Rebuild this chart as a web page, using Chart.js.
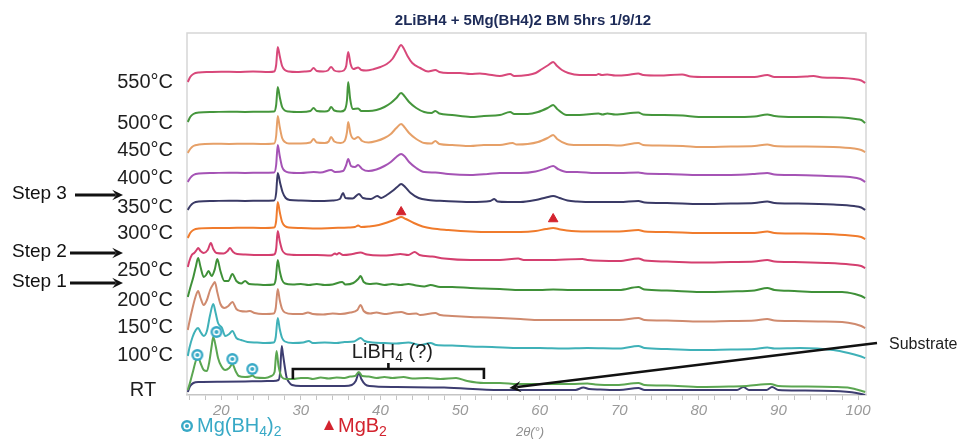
<!DOCTYPE html>
<html>
<head>
<meta charset="utf-8">
<script src="https://cdn.jsdelivr.net/npm/chart.js@4.4.1/dist/chart.umd.min.js"></script>
<style>
  html, body { margin: 0; padding: 0; background: #fff; }
  canvas { display: block; }
</style>
</head>
<body>
<canvas id="xrd" width="966" height="439"></canvas>
<script>
// In-situ XRD scans, 2theta vs intensity (a.u., relative to each scan's baseline)
const temps = ['550°C', '500°C', '450°C', '400°C', '350°C', '300°C', '250°C', '200°C', '150°C', '100°C', 'RT', 'RT'];

// vertical offset of each scan in the stack
const offsets = [323, 283, 251, 222, 194, 167, 140, 110, 81, 52, 17, 13];

const scan550 = [[15.8,-10],[16.1,-5],[16.5,-2],[17.2,-0.5],[18.5,0],[20,0.3],[22,0],[24,0.5],[26,0],[26.65,0.5],[26.9,7],[27.1,25],[27.35,16],[27.65,6],[28,2],[28.5,0.5],[29.5,0],[30.5,0.5],[31.2,1],[31.6,4],[32,1],[32.8,0.5],[33.4,1.5],[33.8,5],[34.2,1.5],[34.8,0.5],[35.4,1.5],[35.7,6],[35.95,20],[36.25,8],[36.6,3],[37.2,4.5],[37.6,2],[38.2,1.5],[39.2,3],[40,5],[40.8,8],[41.5,13],[42.1,21],[42.6,27],[42.9,24],[43.4,16],[44,9],[45,4],[46,0.5],[46.9,2],[47.4,0],[48.5,-1],[50,-1],[51.3,-2],[52.5,-1.5],[53.5,-2.5],[55,-4],[56.3,-2],[56.8,-4],[58.5,-3],[59.5,-1],[60.3,3],[61.1,7],[61.7,10],[62.2,6],[62.8,2],[63.6,-1],[65,-3],[67.1,-3],[67.4,-2],[67.8,-3],[68.5,-2.5],[69.5,-3.5],[71,-3],[72.4,-1.5],[73,-3],[75,-3.5],[77.9,-2.5],[79,-4.5],[81,-5],[84,-5],[87,-5],[88.6,-3],[89.5,-5],[91,-5],[93.5,-4.5],[94.4,-4],[95.5,-5.5],[98,-6],[99.5,-7],[100.4,-8.5],[100.9,-11]];

const scan500 = [[15.8,-10],[16.1,-5],[16.5,-2],[17.2,-0.5],[19,0],[21,0.3],[23,0],[25,0.3],[26.65,0.5],[26.9,7],[27.1,25],[27.35,15],[27.65,5],[28,1.5],[28.5,0.5],[30,0],[31.2,1],[31.6,4],[32,1],[33,0.5],[33.5,1.5],[33.8,5],[34.2,1.5],[35,0.5],[35.5,2],[35.8,12],[35.95,30],[36.2,13],[36.5,3],[37.2,3.5],[37.6,1],[38.5,1],[39.5,2],[40.5,5],[41.3,9],[42,14],[42.6,19],[43,16],[43.6,10],[44.5,4],[45.5,0],[46.4,-1],[46.9,1],[47.4,-1.5],[49,-3],[51.3,-5],[53,-4],[55,-3],[56.3,0],[56.8,-2],[58.5,-2],[59.8,0],[61,4],[61.7,7],[62.2,3],[63.4,-3],[65,-3],[67.4,-1.5],[67.9,-2.5],[68.5,-1.5],[69.5,-2.5],[72.4,-0.5],[73,-2.5],[75,-3],[78,-3.5],[80,-5],[84,-5],[87,-4.5],[88.6,-2.5],[89.5,-4],[92,-5],[95,-5],[98,-5.5],[99.7,-7],[100.4,-8],[100.9,-11]];

const scan450 = [[15.8,-9],[16.1,-5],[16.5,-2],[17.2,-0.5],[19,0.3],[21,0],[23,0.3],[25,0],[26.65,0.5],[26.9,8],[27.1,28],[27.35,17],[27.65,6],[28,2],[28.5,0.5],[30,0.5],[31.2,1.5],[31.6,5],[32,1.5],[33,1],[33.5,2.5],[33.8,7],[34.2,2.5],[35,1],[35.5,3],[35.8,12],[35.95,22],[36.25,10],[36.7,5],[37.2,7],[37.7,3],[38.5,1.5],[39.5,3],[40.5,6],[41.3,10],[42,16],[42.6,20],[43,17],[43.6,11],[44.5,5],[45.5,1],[46.4,0.5],[46.9,3],[47.4,0],[49,-1],[51.3,-2],[53,-1],[55,-1],[56.6,1],[57.1,-0.5],[58.5,0],[59.8,2],[61,6],[61.7,9],[62.2,5],[63.4,0],[64.7,-1],[67,-1],[68.5,-1],[70,-1.5],[72.4,1],[73,-1],[75,-1.5],[78,-2],[80.2,-3],[84,-2.5],[87,-2],[88.6,-0.5],[89.5,-2],[92,-2.5],[96.9,-3],[99.5,-4.5],[100.4,-6],[100.9,-8]];

const scan400 = [[15.8,-9],[16.1,-5],[16.5,-2],[17.2,-0.5],[19,0],[21,0.3],[23,0],[25,0.3],[26.65,0.5],[26.9,8],[27.1,28],[27.35,17],[27.65,6],[28,2],[28.5,0.5],[30,0],[31.6,1],[32.5,0.5],[33.8,3],[34.3,1],[35.3,2],[35.7,8],[35.95,14],[36.3,7],[36.8,6],[37.2,8],[37.7,4],[38.5,2],[39.5,3.5],[40.5,7],[41.3,11],[42,16],[42.6,19],[43,17],[43.6,11],[44.5,5],[45.5,1],[46.9,0.5],[48.5,-1],[51.3,-2],[53.5,-1],[55,0],[57.6,0],[59.5,1.5],[60.8,4.5],[61.7,7],[62.3,4],[63.4,1],[64.7,1],[67,0],[70,0],[72.4,0.5],[73.2,-0.5],[76,-1],[80.2,-2],[84,-2],[87,-1],[88.6,0],[89.5,-1.5],[92,-2],[96,-3],[99,-4],[100.3,-6],[100.9,-9]];

const scan350 = [[15.8,-9],[16.1,-5],[16.5,-2],[17.2,-0.5],[19,0],[21,0.3],[23,0],[25,0.3],[26.65,0.5],[26.9,8],[27.1,28],[27.4,18],[27.7,9],[28.1,3],[28.6,1],[30,0.5],[32,0],[34,0.5],[34.9,2],[35.3,8],[35.6,3],[36.5,2.5],[37.3,7],[37.8,3],[38.8,2],[39.6,5],[40.1,3],[40.8,6],[41.5,10],[42.1,14],[42.6,17],[43.1,14],[43.8,8],[44.8,3],[46,1],[48,0],[51.3,-1],[53.8,0],[54.3,2],[54.7,-0.5],[56,-1],[57.6,-1],[59.5,1],[60.8,3.5],[61.7,5],[62.5,3],[63.5,0.5],[64.7,-0.5],[67,-1],[70,-1],[72.4,0],[73.2,-1.5],[76,-2],[80.2,-3],[84,-2.5],[87,-2],[88.6,-0.5],[89.5,-2],[92,-2.5],[96.9,-3.5],[99.5,-5],[100.4,-6.5],[100.9,-9]];

const scan300 = [[15.8,-10],[16.1,-5],[16.5,-2],[17.2,-0.5],[19,0],[21,0],[23,0.3],[25,0],[26.65,0.5],[26.9,7],[27.1,26],[27.35,16],[27.65,6],[28,2],[28.5,0.5],[30,0],[32,-0.5],[34,0],[36,0.5],[36.8,1],[37.2,2.5],[37.6,1],[38.5,1.5],[39.8,3],[41,6],[42,9],[42.6,11],[43.2,9],[44.2,5],[45.3,1.5],[46.5,-0.5],[48.5,-2],[51.3,-3.5],[54,-4],[57.6,-4],[59.5,-3],[60.8,-1],[61.7,0],[62.6,-1.5],[64,-3],[67,-3.5],[70,-3.5],[72.4,-2],[73.2,-3.5],[76,-4],[80.2,-5],[84,-5],[87,-5],[88.6,-3.5],[89.5,-5],[92,-5.5],[96,-6],[99,-7.5],[100.4,-9],[100.9,-11]];

const scan250 = [[15.8,-12],[16.0,-6],[16.3,0],[16.6,2],[16.9,5],[17.1,7],[17.4,4],[17.8,2],[18.3,5],[18.7,12],[19.0,6],[19.4,2],[20.3,1.5],[20.8,4],[21.1,7],[21.5,3],[22,1],[23,0.5],[24.5,0],[26,0],[26.65,0.5],[26.9,6],[27.1,24],[27.35,14],[27.65,5],[28,1.5],[28.5,0.5],[30,0],[32,0],[33.8,-0.5],[34.3,1.5],[34.5,0.5],[34.8,2],[35.3,0],[36.5,1],[37.5,2.5],[38.3,0.5],[40,-0.5],[41.5,0],[42.5,1],[43.5,0],[44.3,3],[44.9,0],[46.5,-1.5],[48,-3.5],[51.3,-5],[55,-5],[57.3,-3.5],[58,-5],[61,-5],[65.4,-4],[66,-5],[70,-6],[72.4,-3.5],[73.2,-5.5],[76,-6.5],[80.2,-7.5],[84,-7],[87,-6.5],[88.6,-5],[89.5,-6.5],[92,-7],[96,-8],[99,-9.5],[100.4,-11],[100.9,-13]];

const scan200 = [[15.8,-12],[16.1,-3],[16.5,8],[16.8,18],[17.1,27],[17.4,18],[17.8,8],[18.1,10],[18.4,14],[18.8,9],[19.2,16],[19.5,26],[19.9,14],[20.4,4],[20.9,4],[21.4,11],[21.9,4],[22.5,1.5],[23.0,4],[23.5,1],[24.5,0.5],[25.5,0],[26.6,0.5],[26.85,6],[27.1,25],[27.35,14],[27.65,5],[28,1.5],[29,0.5],[30,1],[31,0],[32,1],[33,0],[34,0.5],[35.2,3],[35.6,0.5],[36.6,2],[37.2,6],[37.5,9],[37.9,3],[38.6,1],[39.5,1.5],[40.5,0],[41.5,1],[42.5,0],[43.5,1],[44.5,-0.5],[45.5,-1.5],[46.3,0],[47.5,-2],[49,-2],[51.3,-3],[53,-3.5],[55,-4],[57.6,-5],[60,-5],[61.7,-4.5],[64,-5],[67,-5],[70,-5],[72.4,-2],[73.2,-4.5],[76,-5.5],[80.2,-7],[84,-6.5],[87,-5.5],[88.6,-3],[89.5,-5],[92,-6],[95,-7],[98,-7],[99.6,-9],[100.4,-11],[100.9,-13]];

const scan150 = [[15.8,-16],[16.0,-8],[16.4,6],[16.8,18],[17.1,23],[17.4,16],[17.8,9],[18.2,14],[18.6,24],[19.0,30],[19.2,32],[19.5,22],[19.9,10],[20.4,6],[20.9,8],[21.4,12],[21.9,5],[22.4,3],[23.1,2.5],[23.6,3],[24.2,1],[25.2,0],[26.6,0.5],[26.85,6],[27.1,25],[27.35,14],[27.65,5],[28,1.5],[29,0],[30.2,0],[30.9,1.5],[31.5,0],[32.8,-0.5],[34,0.5],[35,0],[36.2,1.5],[37.1,4],[37.5,9],[37.9,3],[38.7,0.5],[39.5,1.5],[40.5,0],[41.5,1],[42.6,2],[43.5,0],[44.5,0.5],[45,-1],[46.9,1],[47.5,-1],[49,-2],[51.3,-3],[53.5,-3.5],[55,-4],[57.6,-5],[60,-6],[62,-6],[65,-6],[68,-6],[70,-6],[72.4,-4],[73.2,-6],[76,-6.5],[80.2,-7.5],[84,-7],[87,-6.5],[88.6,-5],[89.5,-6.5],[92,-7],[95,-7.5],[98,-8],[99.6,-10],[100.4,-12],[100.9,-14]];

const scan100 = [[15.8,-13],[16.0,-5],[16.4,6],[16.8,13],[17.1,15],[17.4,11],[17.8,7],[18.2,12],[18.6,28],[19.0,39],[19.3,30],[19.6,20],[20.1,15],[20.5,7],[21.0,9],[21.4,12],[21.9,5],[22.5,3],[23.3,1],[24.5,0.5],[25.5,0],[26.6,0.5],[26.85,6],[27.1,25],[27.35,14],[27.65,5],[28,1.5],[29,0],[30.3,0.5],[31,2],[31.5,0],[33,0.5],[34.5,0],[35.5,1],[36.7,1.5],[37.5,5],[38,2],[39,0.5],[40.5,0],[42,-0.5],[43.5,0.5],[45,-2],[46.3,0],[47,-2],[49,-2.5],[51.3,-3.5],[54,-4],[57.6,-5],[60,-5],[63,-5.5],[66,-5],[70,-5.5],[72.4,-3],[73.2,-5],[76,-6],[80,-7],[84,-6.5],[87,-6],[88.6,-4.5],[89.5,-5.5],[92.7,-5],[96.9,-7],[98.8,-10],[100.2,-13],[100.9,-15]];

const scanRT = [[15.8,-12],[16.1,-4],[16.5,8],[16.8,17],[17.1,21],[17.4,15],[17.8,8],[18.2,7],[18.5,16],[18.8,32],[19.0,41],[19.3,32],[19.6,20],[20.0,12],[20.5,8],[21.0,10],[21.4,14],[21.8,7],[22.2,2],[23.0,1],[23.6,1.5],[23.9,2.5],[24.3,0.5],[25.5,0],[26.3,2],[26.7,6],[26.95,27],[27.2,12],[27.6,1],[28.1,-1],[29,-1],[30,0],[30.9,0],[31.5,-1],[32.5,0.5],[33.5,-0.5],[34.5,0.5],[35.5,0],[36.2,1.5],[36.8,2],[37.3,6],[37.7,2],[38.5,1.5],[39.5,0],[40.5,1],[41.5,0],[42.9,1],[44,-0.5],[45.9,0],[47.5,-1],[49.5,0],[50.9,-3],[53,-5],[55,-5],[57.2,-6],[61.3,-6],[64,-6],[66,-5.5],[67,-6.5],[69.7,-7],[72.4,-5],[73.2,-7],[76,-7.5],[80.2,-9],[84,-8.5],[86,-8],[89,-6],[90,-8],[93,-8.5],[96.9,-9],[99,-10],[100.3,-12.5],[100.9,-14]];

const scanSubstrate = [[15.8,-10],[16.1,-4],[16.5,-1],[17.2,0],[20,0.3],[23,0.5],[25,0.8],[26.5,1],[27.2,2],[27.4,10],[27.6,36],[27.75,28],[27.95,17],[28.2,5],[28.5,0],[28.9,-3],[30,-4],[33,-4],[35.5,-4],[36.4,-3],[36.9,1],[37.3,9],[37.6,3],[38.1,-2.5],[38.6,-4],[42,-5],[48,-5.5],[55,-8],[60,-8],[64.5,-8],[65.5,-5.5],[66.2,-7],[67.6,-7.5],[70,-8],[72.4,-6],[73.2,-8],[76,-8],[80,-8],[84.8,-8],[85.6,-5],[86.3,-8],[88.5,-8],[89.2,-5],[90,-8],[92.7,-8.5],[96.9,-9],[99.8,-11],[100.9,-13]];

const scans = [scan550, scan500, scan450, scan400, scan350, scan300, scan250, scan200, scan150, scan100, scanRT, scanSubstrate];

// phase markers: 2theta position and stacked height
const mgBH4Pos = [17.0, 19.4, 21.4, 23.9];
const mgBH4Height = [40, 63, 36, 26];
const mgB2Pos = [42.6, 61.7];
const mgB2Height = [183, 176];

const lineColors = ['#d8487a', '#45963c', '#e6a068', '#a553b5', '#3a3a66', '#f07b2c', '#d43f6f', '#3f9038', '#cf8a6e', '#3fb1b8', '#5ba651', '#3d3d70'];

const FONT = '"Liberation Sans", Arial, Helvetica, sans-serif';
const TEAL = '#38a9c6';
const RED = '#d3232e';

// ring-with-dot symbol used for Mg(BH4)2
function ringSymbol() {
  const c = document.createElement('canvas');
  c.width = 14; c.height = 14;
  const g = c.getContext('2d');
  g.fillStyle = TEAL;
  g.beginPath(); g.arc(7, 7, 6, 0, Math.PI * 2); g.fill();
  g.fillStyle = '#ffffff';
  g.beginPath(); g.arc(7, 7, 3.6, 0, Math.PI * 2); g.fill();
  g.fillStyle = TEAL;
  g.beginPath(); g.arc(7, 7, 2, 0, Math.PI * 2); g.fill();
  return c;
}
const ring = ringSymbol();

function richText(ctx, parts, x, y, align, size, color) {
  const fontFor = sub => (sub ? Math.round(size * 0.68) : size) + 'px ' + FONT;
  const widths = parts.map(([t, sub]) => { ctx.font = fontFor(sub); return ctx.measureText(t).width; });
  const total = widths.reduce((a, b) => a + b, 0);
  let cx = align === 'center' ? x - total / 2 : align === 'right' ? x - total : x;
  ctx.fillStyle = color;
  ctx.textAlign = 'left';
  ctx.textBaseline = 'middle';
  parts.forEach(([t, sub], i) => {
    ctx.font = fontFor(sub);
    ctx.fillText(t, cx, sub ? y + size * 0.3 : y);
    cx += widths[i];
  });
}

function arrow(ctx, x1, y1, x2, y2, head) {
  const ang = Math.atan2(y2 - y1, x2 - x1);
  ctx.beginPath();
  ctx.moveTo(x1, y1);
  ctx.lineTo(x2 - Math.cos(ang) * head * 0.6, y2 - Math.sin(ang) * head * 0.6);
  ctx.stroke();
  ctx.beginPath();
  ctx.moveTo(x2, y2);
  ctx.lineTo(x2 - head * Math.cos(ang - 0.45), y2 - head * Math.sin(ang - 0.45));
  ctx.lineTo(x2 - head * 0.55 * Math.cos(ang), y2 - head * 0.55 * Math.sin(ang));
  ctx.lineTo(x2 - head * Math.cos(ang + 0.45), y2 - head * Math.sin(ang + 0.45));
  ctx.closePath();
  ctx.fill();
}

const labelY = [82, 123, 150, 178, 207, 233, 270, 300, 327, 355, 390];
const steps = [['Step 3', 194], ['Step 2', 252], ['Step 1', 282]];

const frame = {
  id: 'frame',
  beforeDatasetsDraw(chart) {
    const { ctx, chartArea: a } = chart;
    ctx.save();
    ctx.strokeStyle = '#d6d6d6';
    ctx.lineWidth = 1.5;
    ctx.beginPath();
    ctx.moveTo(a.left, a.bottom);
    ctx.lineTo(a.left, a.top);
    ctx.lineTo(a.right, a.top);
    ctx.lineTo(a.right, a.bottom);
    ctx.stroke();
    ctx.restore();
  }
};

const notes = {
  id: 'notes',
  afterDraw(chart) {
    const { ctx, scales: { x, y } } = chart;
    ctx.save();

    // title
    ctx.font = 'bold 15px ' + FONT;
    ctx.fillStyle = '#1d2b58';
    ctx.textAlign = 'center';
    ctx.textBaseline = 'middle';
    ctx.fillText('2LiBH4 + 5Mg(BH4)2 BM 5hrs 1/9/12', 523, 21);

    // temperature labels
    ctx.font = '20px ' + FONT;
    ctx.fillStyle = '#1e1e1e';
    ctx.textAlign = 'right';
    labelY.forEach((ly, i) => {
      if (temps[i] === 'RT') {
        ctx.textAlign = 'center';
        ctx.fillText(temps[i], 143, ly);
      } else {
        ctx.fillText(temps[i], 173, ly);
      }
    });

    // heating steps
    ctx.textAlign = 'left';
    ctx.font = '19px ' + FONT;
    ctx.strokeStyle = '#111';
    ctx.fillStyle = '#111';
    ctx.lineWidth = 2.8;
    steps.forEach(([txt, sy]) => {
      ctx.fillText(txt, 12, sy);
      arrow(ctx, txt === 'Step 3' ? 75 : 70, sy + 1, 123, sy + 1, 12);
    });

    // LiBH4 bracket
    const bx1 = x.getPixelForValue(29), bx2 = x.getPixelForValue(53), bxc = x.getPixelForValue(41);
    const by = y.getPixelForValue(26);
    ctx.lineWidth = 2.6;
    ctx.strokeStyle = '#111';
    ctx.beginPath();
    ctx.moveTo(bx1, by + 10); ctx.lineTo(bx1, by); ctx.lineTo(bx2, by); ctx.lineTo(bx2, by + 10);
    ctx.moveTo(bxc, by); ctx.lineTo(bxc, by - 6);
    ctx.stroke();
    richText(ctx, [['LiBH'], ['4', true], [' (?)']], bxc + 4, by - 17, 'center', 20, '#1e1e1e');

    // substrate pointer
    ctx.lineWidth = 2.6;
    ctx.fillStyle = '#111';
    arrow(ctx, 877, 343, x.getPixelForValue(56.2), y.getPixelForValue(7), 13);
    ctx.font = '16px ' + FONT;
    ctx.textAlign = 'left';
    ctx.fillStyle = '#1e1e1e';
    ctx.fillText('Substrate', 889, 345);

    // phase key
    ctx.drawImage(ring, 180, 419);
    richText(ctx, [['Mg(BH'], ['4', true], [')'], ['2', true]], 197, 426, 'left', 20, TEAL);
    ctx.fillStyle = RED;
    ctx.beginPath();
    ctx.moveTo(329, 420); ctx.lineTo(334, 430); ctx.lineTo(324, 430); ctx.closePath();
    ctx.fill();
    richText(ctx, [['MgB'], ['2', true]], 338, 426, 'left', 20, RED);

    // axis title
    ctx.font = 'italic 13px ' + FONT;
    ctx.fillStyle = '#8f8f8f';
    ctx.textAlign = 'center';
    ctx.fillText('2θ(°)', 530, 432);

    ctx.restore();
  }
};

const datasets = scans.map((scan, i) => ({
  label: temps[i],
  data: scan.map(([tt, r]) => ({ x: tt, y: r + offsets[i] })),
  borderColor: lineColors[i],
  borderWidth: 2,
  pointRadius: 0,
  cubicInterpolationMode: 'monotone',
  fill: false,
  order: 2
}));

datasets.push({
  type: 'scatter',
  label: 'Mg(BH4)2',
  data: mgBH4Pos.map((p, i) => ({ x: p, y: mgBH4Height[i] })),
  pointStyle: ring,
  order: 0
});
datasets.push({
  type: 'scatter',
  label: 'MgB2',
  data: mgB2Pos.map((p, i) => ({ x: p, y: mgB2Height[i] })),
  pointStyle: 'triangle',
  pointRadius: 5.5,
  backgroundColor: RED,
  borderColor: RED,
  borderWidth: 1,
  order: 0
});

new Chart(document.getElementById('xrd'), {
  type: 'line',
  data: { datasets },
  options: {
    responsive: false,
    animation: false,
    layout: { padding: { left: 187, right: 100, top: 33, bottom: 0 } },
    plugins: { legend: { display: false }, tooltip: { enabled: false } },
    scales: {
      x: {
        type: 'linear',
        min: 15.7,
        max: 101,
        afterFit(scale) { scale.height = 44; },
        border: { color: '#c4c4c4', width: 1.5 },
        grid: { drawOnChartArea: false, tickLength: 5, color: '#c4c4c4' },
        ticks: {
          stepSize: 2,
          includeBounds: false,
          autoSkip: false,
          maxRotation: 0,
          padding: 2,
          color: '#9a9a9a',
          font: { family: FONT, size: 15, style: 'italic' },
          callback: v => (v % 10 === 0 ? v : '')
        }
      },
      y: { display: false, min: 0, max: 362 }
    }
  },
  plugins: [frame, notes]
});
</script>
</body>
</html>
